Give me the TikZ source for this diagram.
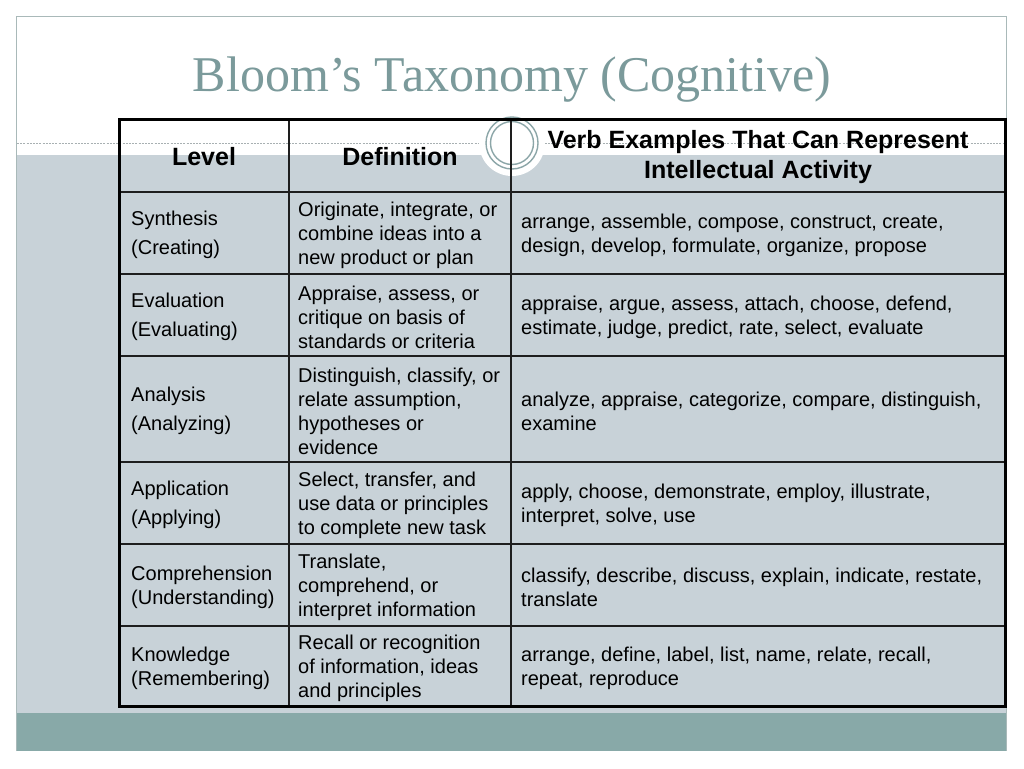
\documentclass[tikz,border=0pt]{standalone}
\usepackage{fontspec}
\setmainfont{Liberation Serif}
\newfontfamily\arialf{Liberation Sans}
\definecolor{bgGray}{HTML}{C8D2D8}
\definecolor{bandTeal}{HTML}{88A9A8}
\definecolor{titleCol}{HTML}{7B9A9B}
\definecolor{frameCol}{HTML}{A9B9B9}
\definecolor{ringCol}{HTML}{8CA6A8}
\definecolor{dashCol}{HTML}{A8B0B2}
\definecolor{gridCol}{HTML}{1E1E1E}
\tikzset{
  celltext/.style={anchor=west, align=left, inner sep=0pt, font=\arialf\fontsize{20}{24}\selectfont, text=black},
  headtext/.style={anchor=center, align=center, inner sep=0pt, font=\arialf\bfseries\fontsize{25}{30}\selectfont, text=black},
  gridline/.style={draw=gridCol, line width=1.6pt},
  outerline/.style={draw=black, line width=3pt},
}
\begin{document}
\begin{tikzpicture}[x=1pt,y=-1pt]
\useasboundingbox (0,0) rectangle (1024,768);
\fill[white] (0,0) rectangle (1024,768);
% background bands
\fill[bgGray] (17,155) rectangle (1006,713);
\fill[bandTeal] (17,713) rectangle (1006,751);
% dashed rule
\draw[dashCol, line width=0.8pt, dash pattern=on 2pt off 1.2pt] (17,143) -- (1006,143);
% frame
\draw[frameCol, line width=1pt] (16.5,751) -- (16.5,16.5) -- (1006,16.5) -- (1006,751);
% circle ornament
\fill[white] (512,143) circle (33);
\draw[ringCol, line width=1.4pt] (512,143) circle (26);
\draw[ringCol, line width=1.4pt] (512,143) circle (21.5);
% title
\node[anchor=base, inner sep=0pt, text=titleCol, font=\fontsize{50}{60}\selectfont] (title) at (512,91) {Bloom’s Taxonomy (Cognitive)};
% table grid
\draw[gridline] (119,274) -- (1005,274);
\draw[gridline] (119,356) -- (1005,356);
\draw[gridline] (119,462) -- (1005,462);
\draw[gridline] (119,544) -- (1005,544);
\draw[gridline] (119,626) -- (1005,626);
\draw[gridline, line width=2.4pt] (119,192) -- (1005,192);
\draw[gridline] (289,119) -- (289,706);
\draw[gridline] (511,119) -- (511,706);
\draw[outerline] (119,119) rectangle (1005,706);
% header
\node[headtext] (hLevel) at (204,157) {Level};
\node[headtext] (hDef) at (400,157) {Definition};
\node[headtext] (hVerb) at (758,157) {Verb Examples That Can Represent\\Intellectual Activity};
% row 1
\node[celltext] (l1) at (131,235) {Synthesis\\[5pt](Creating)};
\node[celltext] (d1) at (298,235) {Originate, integrate, or\\combine ideas into a\\new product or plan};
\node[celltext] (v1) at (521,235) {arrange, assemble, compose, construct, create,\\design, develop, formulate, organize, propose};
% row 2
\node[celltext] (l2) at (131,317) {Evaluation\\[5pt](Evaluating)};
\node[celltext] (d2) at (298,317) {Appraise, assess, or\\critique on basis of\\standards or criteria};
\node[celltext] (v2) at (521,317) {appraise, argue, assess, attach, choose, defend,\\estimate, judge, predict, rate, select, evaluate};
% row 3
\node[celltext] (l3) at (131,411) {Analysis\\[5pt](Analyzing)};
\node[celltext] (d3) at (298,411) {Distinguish, classify, or\\relate assumption,\\hypotheses or\\evidence};
\node[celltext] (v3) at (521,411) {analyze, appraise, categorize, compare, distinguish,\\examine};
% row 4
\node[celltext] (l4) at (131,505) {Application\\[5pt](Applying)};
\node[celltext] (d4) at (298,505) {Select, transfer, and\\use data or principles\\to complete new task};
\node[celltext] (v4) at (521,505) {apply, choose, demonstrate, employ, illustrate,\\interpret, solve, use};
% row 5
\node[celltext] (l5) at (131,587) {Comprehension\\(Understanding)};
\node[celltext] (d5) at (298,587) {Translate,\\comprehend, or\\interpret information};
\node[celltext] (v5) at (521,587) {classify, describe, discuss, explain, indicate, restate,\\translate};
% row 6
\node[celltext] (l6) at (131,668) {Knowledge\\(Remembering)};
\node[celltext] (d6) at (298,668) {Recall or recognition\\of information, ideas\\and principles};
\node[celltext] (v6) at (521,668) {arrange, define, label, list, name, relate, recall,\\repeat, reproduce};
\end{tikzpicture}
\end{document}
